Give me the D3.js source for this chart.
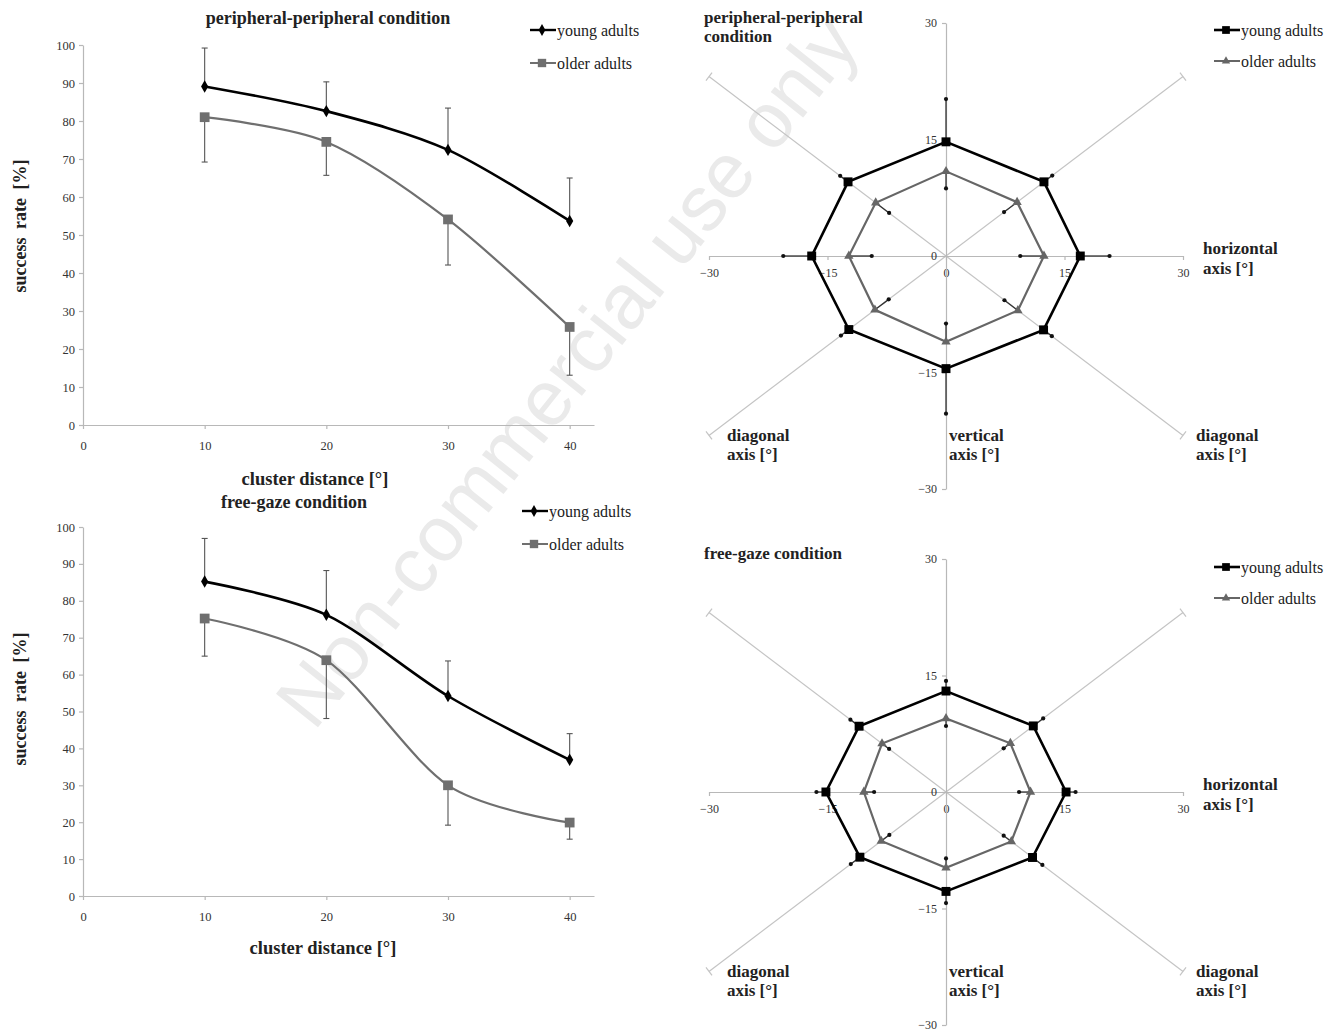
<!DOCTYPE html>
<html>
<head>
<meta charset="utf-8">
<script src="https://cdn.jsdelivr.net/npm/d3@7"></script>
<style>
body { margin: 0; background: #fff; }
text { font-family: "Liberation Serif", "Times New Roman", serif; fill: #222; }
.axis path, .axis line { stroke: #b8b8b8; stroke-width: 1.2; }
.axis text { font-family: "Liberation Serif", serif; fill: #333; }
</style>
</head>
<body>
<div id="figure"></div>
<script>
// values
var distances = [10, 20, 30, 40];
var xTicks = [0, 10, 20, 30, 40];
var yTicks = [0, 10, 20, 30, 40, 50, 60, 70, 80, 90, 100];
var seriesNames = ['young adults', 'older adults'];

// peripheral-peripheral condition, success rate [%] and SD
var ppYoung = [89.1, 82.6, 72.4, 53.7];
var ppYoungSD = [10.1, 7.7, 11.0, 11.3];
var ppOlder = [81.0, 74.5, 54.1, 25.8];
var ppOlderSD = [11.8, 8.8, 12.0, 12.7];

// free-gaze condition
var fgYoung = [85.2, 76.2, 54.2, 36.9];
var fgYoungSD = [11.7, 12.0, 9.5, 7.1];
var fgOlder = [75.2, 63.9, 30.0, 19.9];
var fgOlderSD = [10.2, 15.8, 10.8, 4.5];

// radar plots: 8 directions, counter-clockwise starting on the right
var directions = ['right', 'upper right', 'up', 'upper left', 'left', 'lower left', 'down', 'lower right'];
var radarTicks = [-30, -15, 0, 15, 30];

var ppRadarYoung = [17.0, 12.4, 14.7, 12.4, 17.0, 12.3, 14.5, 12.35];
var ppRadarYoungSD = [3.7, 1.05, 5.5, 1.0, 3.6, 1.0, 5.8, 1.05];
var ppRadarOlder = [12.4, 9.0, 10.9, 8.9, 12.3, 9.0, 11.05, 9.1];
var ppRadarOlderSD = [3.0, 1.65, 2.2, 1.7, 2.9, 1.75, 2.35, 1.7];

var fgRadarYoung = [15.2, 11.05, 13.0, 11.0, 15.2, 10.9, 12.8, 10.95];
var fgRadarYoungSD = [1.2, 1.25, 1.3, 1.1, 1.2, 1.15, 1.5, 1.25];
var fgRadarOlder = [10.7, 8.15, 9.46, 8.1, 10.4, 8.2, 9.77, 8.27];
var fgRadarOlderSD = [1.45, 0.85, 0.96, 0.9, 1.3, 1.03, 1.22, 0.97];

var width = 1335, height = 1031;
var black = '#000', grey = '#6f6f6f';

var svg = d3.select('#figure')
    .append('svg')
    .attr('width', width)
    .attr('height', height);

function label(x, y, txt, size, bold, anchor, rotate) {
    var t = svg.append('text')
        .attr('x', x).attr('y', y).attr('dy', '0.35em')
        .attr('text-anchor', anchor || 'start')
        .style('font-size', size + 'px')
        .style('font-weight', bold ? 'bold' : 'normal')
        .text(txt);
    if (rotate) t.attr('transform', 'rotate(' + rotate + ',' + x + ',' + y + ')');
    return t;
}

// watermark, behind everything
svg.append('text')
    .attr('x', 588).attr('y', 388)
    .attr('text-anchor', 'middle')
    .attr('transform', 'rotate(-51.5,588,388)')
    .style('font-family', '"Liberation Sans", Arial, sans-serif')
    .style('font-size', '78px')
    .style('fill', '#eaeaea')
    .text('Non-commercial use only');

function legend(x, y, symbols, colors, widths) {
    seriesNames.forEach(function(name, i) {
        var yy = y + i * (symbols.gap);
        svg.append('line')
            .attr('x1', x).attr('x2', x + 26).attr('y1', yy).attr('y2', yy)
            .attr('stroke', colors[i]).attr('stroke-width', widths[i]);
        svg.append('path')
            .attr('d', d3.symbol(symbols.types[i], symbols.sizes[i])())
            .attr('transform', 'translate(' + (x + 12) + ',' + yy + ')')
            .attr('fill', colors[i]);
        label(x + 27, yy, name, 16, false, 'start');
    });
}

function lineChart(opt) {
    var x = d3.scaleLinear().domain([0, 42]).range([83, 594]);
    var y = d3.scaleLinear().domain([0, 100]).range([opt.y0, opt.y100]);

    svg.append('g').attr('class', 'axis')
        .attr('transform', 'translate(0,' + opt.y0 + ')')
        .call(d3.axisBottom(x).tickValues(xTicks).tickSize(4).tickSizeOuter(0).tickPadding(12))
        .selectAll('text').style('font-size', '12.5px');
    svg.append('g').attr('class', 'axis')
        .attr('transform', 'translate(83,0)')
        .call(d3.axisLeft(y).tickValues(yTicks).tickSize(4).tickSizeOuter(0).tickPadding(4))
        .selectAll('text').style('font-size', '12.5px');

    var series = [
        { v: opt.young, sd: opt.youngSD, dir: 1, color: black, w: 2.6, sym: d3.symbolDiamond, size: 45 },
        { v: opt.older, sd: opt.olderSD, dir: -1, color: grey, w: 2.2, sym: d3.symbolSquare, size: 95 }
    ];

    var line = d3.line()
        .x(function(d) { return x(d.d); })
        .y(function(d) { return y(d.v); })
        .curve(d3.curveCardinal.tension(0.1));

    series.forEach(function(s) {
        var pts = distances.map(function(d, i) { return { d: d, v: s.v[i], sd: s.sd[i] }; });

        // one-sided error bars
        var eb = svg.append('g');
        eb.selectAll('line.bar').data(pts).enter().append('line')
            .attr('x1', function(d) { return x(d.d); }).attr('x2', function(d) { return x(d.d); })
            .attr('y1', function(d) { return y(d.v); })
            .attr('y2', function(d) { return y(d.v + s.dir * d.sd); })
            .attr('stroke', '#555').attr('stroke-width', 1.1);
        eb.selectAll('line.cap').data(pts).enter().append('line')
            .attr('x1', function(d) { return x(d.d) - 3; }).attr('x2', function(d) { return x(d.d) + 3; })
            .attr('y1', function(d) { return y(d.v + s.dir * d.sd); })
            .attr('y2', function(d) { return y(d.v + s.dir * d.sd); })
            .attr('stroke', '#555').attr('stroke-width', 1.1);

        svg.append('path').datum(pts)
            .attr('d', line)
            .attr('fill', 'none')
            .attr('stroke', s.color)
            .attr('stroke-width', s.w);

        svg.selectAll(null).data(pts).enter().append('path')
            .attr('d', d3.symbol(s.sym, s.size)())
            .attr('transform', function(d) { return 'translate(' + x(d.d) + ',' + y(d.v) + ')'; })
            .attr('fill', s.color);
    });

    label(opt.titleX, opt.titleY, opt.title, 18, true, 'middle');
    label(opt.xTitleX, opt.xTitleY, 'cluster distance [°]', 18.5, true, 'middle');
    label(20, opt.yTitleY, 'success rate [%]', 18, true, 'middle', -90).style('word-spacing', '4px');

    legend(opt.legX, opt.legY, { gap: 33, types: [d3.symbolDiamond, d3.symbolSquare], sizes: [40, 70] },
        [black, grey], [2.4, 2]);
}

function radar(opt) {
    var cx = 946, cy = opt.cy;
    var x = d3.scaleLinear().domain([-30, 30]).range([cx - 237, cx + 237]);
    var y = d3.scaleLinear().domain([-30, 30]).range([cy + 233, cy - 233]);
    var dirX = [1, 1, 0, -1, -1, -1, 0, 1];
    var dirY = [0, 0.77, 1, 0.77, 0, -0.77, -1, -0.77];

    function pos(i, v) { return [x(v * dirX[i]), y(v * dirY[i])]; }

    // diagonal axes with end caps
    [1, 3, 5, 7].forEach(function(i) {
        var e = pos(i, 30);
        var dx = e[0] - cx, dy = e[1] - cy, len = Math.sqrt(dx * dx + dy * dy);
        var px = -dy / len * 5, py = dx / len * 5;
        svg.append('line')
            .attr('x1', cx).attr('y1', cy).attr('x2', e[0]).attr('y2', e[1])
            .attr('stroke', '#c4c4c4').attr('stroke-width', 1.2);
        svg.append('line')
            .attr('x1', e[0] - px).attr('y1', e[1] - py).attr('x2', e[0] + px).attr('y2', e[1] + py)
            .attr('stroke', '#c4c4c4').attr('stroke-width', 1.2);
    });

    svg.append('g').attr('class', 'axis')
        .attr('transform', 'translate(0,' + cy + ')')
        .call(d3.axisBottom(x).tickValues(radarTicks).tickSize(4).tickSizeOuter(0).tickPadding(8))
        .selectAll('text').style('font-size', '12px');
    svg.append('g').attr('class', 'axis')
        .attr('transform', 'translate(' + cx + ',0)')
        .call(d3.axisLeft(y).tickValues(radarTicks).tickSize(4).tickSizeOuter(0).tickPadding(5))
        .selectAll('text').style('font-size', '12px');

    var series = [
        { v: opt.young, sd: opt.youngSD, dir: 1, color: black, w: 2.6, sym: d3.symbolSquare, size: 80 },
        { v: opt.older, sd: opt.olderSD, dir: -1, color: '#666', w: 2.2, sym: d3.symbolTriangle, size: 38 }
    ];

    series.forEach(function(s) {
        var pts = directions.map(function(name, i) {
            return { p: pos(i, s.v[i]), e: pos(i, s.v[i] + s.dir * s.sd[i]) };
        });

        svg.selectAll(null).data(pts).enter().append('line')
            .attr('x1', function(d) { return d.p[0]; }).attr('y1', function(d) { return d.p[1]; })
            .attr('x2', function(d) { return d.e[0]; }).attr('y2', function(d) { return d.e[1]; })
            .attr('stroke', '#333').attr('stroke-width', 1.3);
        svg.selectAll(null).data(pts).enter().append('circle')
            .attr('cx', function(d) { return d.e[0]; }).attr('cy', function(d) { return d.e[1]; })
            .attr('r', 2.1).attr('fill', '#111');

        svg.append('path').datum(pts.map(function(d) { return d.p; }))
            .attr('d', d3.line().curve(d3.curveLinearClosed))
            .attr('fill', 'none')
            .attr('stroke', s.color)
            .attr('stroke-width', s.w);

        svg.selectAll(null).data(pts).enter().append('path')
            .attr('d', d3.symbol(s.sym, s.size)())
            .attr('transform', function(d) { return 'translate(' + d.p[0] + ',' + d.p[1] + ')'; })
            .attr('fill', s.color);
    });

    // titles
    opt.title.forEach(function(t, i) { label(704, opt.titleY + i * 19, t, 17, true); });
    label(1203, cy - 8, 'horizontal', 17, true);
    label(1203, cy + 12, 'axis [°]', 17, true);
    label(727, cy + 179, 'diagonal', 17, true);
    label(727, cy + 198, 'axis [°]', 17, true);
    label(949, cy + 179, 'vertical', 17, true);
    label(949, cy + 198, 'axis [°]', 17, true);
    label(1196, cy + 179, 'diagonal', 17, true);
    label(1196, cy + 198, 'axis [°]', 17, true);

    legend(1214, opt.legY, { gap: 31, types: [d3.symbolSquare, d3.symbolTriangle], sizes: [60, 30] },
        [black, '#666'], [2.6, 2]);
}

lineChart({
    y0: 425, y100: 45, young: ppYoung, youngSD: ppYoungSD, older: ppOlder, olderSD: ppOlderSD,
    title: 'peripheral-peripheral condition', titleX: 328, titleY: 18,
    xTitleX: 315, xTitleY: 479, yTitleY: 226, legX: 530, legY: 30
});
lineChart({
    y0: 896, y100: 527, young: fgYoung, youngSD: fgYoungSD, older: fgOlder, olderSD: fgOlderSD,
    title: 'free-gaze condition', titleX: 294, titleY: 502,
    xTitleX: 323, xTitleY: 948, yTitleY: 699, legX: 522, legY: 511
});

radar({
    cy: 256, young: ppRadarYoung, youngSD: ppRadarYoungSD, older: ppRadarOlder, olderSD: ppRadarOlderSD,
    title: ['peripheral-peripheral', 'condition'], titleY: 17, legY: 30
});
radar({
    cy: 792, young: fgRadarYoung, youngSD: fgRadarYoungSD, older: fgRadarOlder, olderSD: fgRadarOlderSD,
    title: ['free-gaze condition'], titleY: 553, legY: 567
});
</script>
</body>
</html>
